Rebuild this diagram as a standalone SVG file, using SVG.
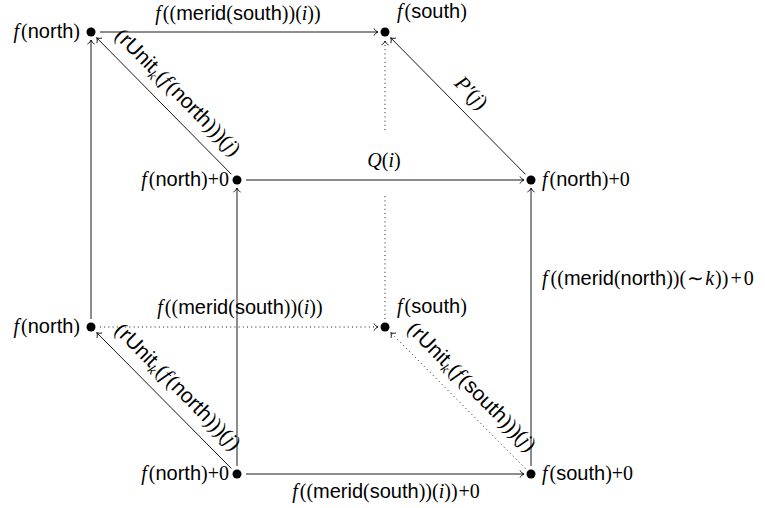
<svg xmlns="http://www.w3.org/2000/svg" width="765" height="508" viewBox="0 0 765 508">
<style>
.t{font-family:"Liberation Sans",Arial,sans-serif;font-size:20px;fill:#000}
.g{font-size:21px}
.m{font-family:"Liberation Serif","Times New Roman",serif;font-style:italic}
.r{font-family:"Liberation Serif","Times New Roman",serif;font-style:normal}
.s{font-size:14px}
.e{stroke:#000;stroke-width:0.9;fill:none}
.d{stroke-dasharray:1 3.2}
.a{marker-end:url(#arr)}
</style>
<defs>
<marker id="arr" markerUnits="userSpaceOnUse" markerWidth="12" markerHeight="12" refX="0" refY="0" viewBox="-6 -6 12 12" orient="auto" overflow="visible">
<path d="M-4,-3.6 C-3,-1.6 -1.2,-0.4 0,0 C-1.2,0.4 -3,1.6 -4,3.6" fill="none" stroke="#000" stroke-width="0.9"/>
</marker>
</defs>
<rect width="765" height="508" fill="#fff"/>
<g id="connectors">
<g id="e-top">
<line class="e a" x1="100" y1="32" x2="378" y2="32"/>
<text class="t" x="238" y="20" text-anchor="middle"><tspan class="m">f</tspan><tspan class="r" dx="2">((</tspan>merid<tspan class="r">(</tspan>south<tspan class="r">))(</tspan><tspan class="m">i</tspan><tspan class="r">))</tspan></text>
</g>
<g id="e-q">
<line class="e a" x1="246" y1="180" x2="524" y2="180"/>
<text class="t" x="384" y="167" text-anchor="middle"><tspan class="m">Q</tspan><tspan class="r">(</tspan><tspan class="m">i</tspan><tspan class="r">)</tspan></text>
</g>
<g id="e-bot-back">
<line class="e d a" x1="100" y1="327" x2="378" y2="327"/>
<text class="t" x="240" y="314" text-anchor="middle"><tspan class="m">f</tspan><tspan class="r" dx="2">((</tspan>merid<tspan class="r">(</tspan>south<tspan class="r">))(</tspan><tspan class="m">i</tspan><tspan class="r">))</tspan></text>
</g>
<g id="e-bot-front">
<line class="e a" x1="246" y1="474" x2="524" y2="474"/>
<text class="t" x="386" y="498" text-anchor="middle"><tspan class="m">f</tspan><tspan class="r" dx="2">((</tspan>merid<tspan class="r">(</tspan>south<tspan class="r">))(</tspan><tspan class="m">i</tspan><tspan class="r">))</tspan><tspan class="r" dx="1">+0</tspan></text>
</g>
<g id="e-left-back">
<line class="e a" x1="91" y1="319" x2="91" y2="40"/>
</g>
<g id="e-left-front">
<line class="e a" x1="237" y1="466" x2="237" y2="188"/>
</g>
<g id="e-right-front">
<line class="e a" x1="531" y1="466" x2="531" y2="188"/>
<text class="t" x="542" y="285"><tspan class="m">f</tspan><tspan class="r" dx="3">((</tspan>merid<tspan class="r">(</tspan>north<tspan class="r">))(</tspan><tspan class="r" dx="1">∼</tspan><tspan class="m" dx="1">k</tspan><tspan class="r" dx="1">))</tspan><tspan class="r" dx="2">+</tspan><tspan class="r" dx="2">0</tspan></text>
</g>
<g id="e-right-back">
<line class="e d" x1="385" y1="319" x2="385" y2="195"/>
<line class="e d a" x1="385" y1="130" x2="385" y2="41"/>
</g>
<g id="e-diag-tl">
<line class="e a" x1="231.4" y1="174.3" x2="96.6" y2="37.7"/>
<text class="t g" transform="translate(166,104) rotate(45.4)" x="0" y="-10" text-anchor="middle"><tspan class="r">(</tspan>rUnit<tspan class="m s" dy="4">k</tspan><tspan class="r" dy="-4" dx="1">(</tspan><tspan class="m">f</tspan><tspan class="r" dx="2">(</tspan>north<tspan class="r">)))(</tspan><tspan class="m">j</tspan><tspan class="r">)</tspan></text>
</g>
<g id="e-diag-tr">
<line class="e a" x1="525.4" y1="174.3" x2="390.6" y2="37.7"/>
<text class="t g" transform="translate(458,106) rotate(45.4)" x="0" y="-12" text-anchor="middle"><tspan class="m">P′</tspan><tspan class="r">(</tspan><tspan class="m">j</tspan><tspan class="r">)</tspan></text>
</g>
<g id="e-diag-bl">
<line class="e a" x1="231.3" y1="468.4" x2="96.7" y2="332.6"/>
<text class="t g" transform="translate(166,398.5) rotate(45.2)" x="0" y="-10" text-anchor="middle"><tspan class="r">(</tspan>rUnit<tspan class="m s" dy="4">k</tspan><tspan class="r" dy="-4" dx="1">(</tspan><tspan class="m">f</tspan><tspan class="r" dx="2">(</tspan>north<tspan class="r">)))(</tspan><tspan class="m">j</tspan><tspan class="r">)</tspan></text>
</g>
<g id="e-diag-br">
<line class="e d a" x1="525.3" y1="468.4" x2="390.7" y2="332.6"/>
<text class="t g" transform="translate(460,398.5) rotate(45.2)" x="0" y="-10" text-anchor="middle"><tspan class="r">(</tspan>rUnit<tspan class="m s" dy="4">k</tspan><tspan class="r" dy="-4" dx="1">(</tspan><tspan class="m">f</tspan><tspan class="r" dx="2">(</tspan>south<tspan class="r">)))(</tspan><tspan class="m">j</tspan><tspan class="r">)</tspan></text>
</g>
</g>
<g id="n-tl">
<circle cx="91" cy="32" r="4.5"/>
<text class="t" x="80" y="38" text-anchor="end"><tspan class="m">f</tspan><tspan class="r" dx="2">(</tspan>north<tspan class="r">)</tspan></text>
</g>
<g id="n-tr">
<circle cx="385" cy="32" r="4.5"/>
<text class="t" x="397" y="18"><tspan class="m">f</tspan><tspan class="r" dx="2">(</tspan>south<tspan class="r">)</tspan></text>
</g>
<g id="n-ml">
<circle cx="237" cy="180" r="4.5"/>
<text class="t" x="229" y="186" text-anchor="end"><tspan class="m">f</tspan><tspan class="r" dx="2">(</tspan>north<tspan class="r">)+0</tspan></text>
</g>
<g id="n-mr">
<circle cx="531" cy="180" r="4.5"/>
<text class="t" x="542" y="186"><tspan class="m">f</tspan><tspan class="r" dx="2">(</tspan>north<tspan class="r">)+0</tspan></text>
</g>
<g id="n-bl">
<circle cx="91" cy="327" r="4.5"/>
<text class="t" x="80" y="333" text-anchor="end"><tspan class="m">f</tspan><tspan class="r" dx="2">(</tspan>north<tspan class="r">)</tspan></text>
</g>
<g id="n-br">
<circle cx="385" cy="327" r="4.5"/>
<text class="t" x="397" y="313"><tspan class="m">f</tspan><tspan class="r" dx="2">(</tspan>south<tspan class="r">)</tspan></text>
</g>
<g id="n-fbl">
<circle cx="237" cy="474" r="4.5"/>
<text class="t" x="229" y="480" text-anchor="end"><tspan class="m">f</tspan><tspan class="r" dx="2">(</tspan>north<tspan class="r">)+0</tspan></text>
</g>
<g id="n-fbr">
<circle cx="531" cy="474" r="4.5"/>
<text class="t" x="542" y="480"><tspan class="m">f</tspan><tspan class="r" dx="2">(</tspan>south<tspan class="r">)+0</tspan></text>
</g>
</svg>
